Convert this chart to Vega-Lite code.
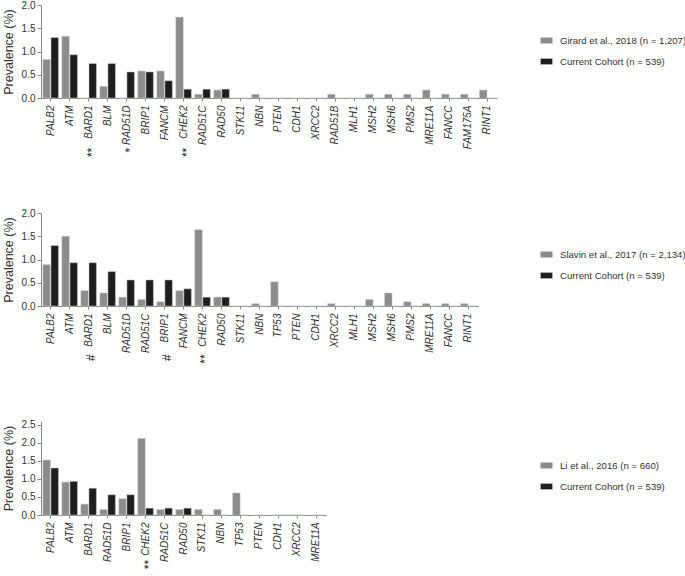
{
  "$schema": "https://vega.github.io/schema/vega-lite/v6.json",
  "padding": {"top": 0, "left": 2, "right": 0, "bottom": 0},
  "background": "white",
  "datasets": {
    "p1": [
      {"gene": "PALB2", "series": "Girard et al., 2018 (n = 1,207)", "value": 0.83},
      {"gene": "PALB2", "series": "Current Cohort (n = 539)", "value": 1.30},
      {"gene": "ATM", "series": "Girard et al., 2018 (n = 1,207)", "value": 1.33},
      {"gene": "ATM", "series": "Current Cohort (n = 539)", "value": 0.93},
      {"gene": "BARD1", "series": "Girard et al., 2018 (n = 1,207)", "value": 0},
      {"gene": "BARD1", "series": "Current Cohort (n = 539)", "value": 0.74},
      {"gene": "BLM", "series": "Girard et al., 2018 (n = 1,207)", "value": 0.25},
      {"gene": "BLM", "series": "Current Cohort (n = 539)", "value": 0.74},
      {"gene": "RAD51D", "series": "Girard et al., 2018 (n = 1,207)", "value": 0},
      {"gene": "RAD51D", "series": "Current Cohort (n = 539)", "value": 0.56},
      {"gene": "BRIP1", "series": "Girard et al., 2018 (n = 1,207)", "value": 0.58},
      {"gene": "BRIP1", "series": "Current Cohort (n = 539)", "value": 0.56},
      {"gene": "FANCM", "series": "Girard et al., 2018 (n = 1,207)", "value": 0.58},
      {"gene": "FANCM", "series": "Current Cohort (n = 539)", "value": 0.37},
      {"gene": "CHEK2", "series": "Girard et al., 2018 (n = 1,207)", "value": 1.74},
      {"gene": "CHEK2", "series": "Current Cohort (n = 539)", "value": 0.19},
      {"gene": "RAD51C", "series": "Girard et al., 2018 (n = 1,207)", "value": 0.08},
      {"gene": "RAD51C", "series": "Current Cohort (n = 539)", "value": 0.19},
      {"gene": "RAD50", "series": "Girard et al., 2018 (n = 1,207)", "value": 0.17},
      {"gene": "RAD50", "series": "Current Cohort (n = 539)", "value": 0.19},
      {"gene": "STK11", "series": "Girard et al., 2018 (n = 1,207)", "value": 0},
      {"gene": "STK11", "series": "Current Cohort (n = 539)", "value": 0},
      {"gene": "NBN", "series": "Girard et al., 2018 (n = 1,207)", "value": 0.08},
      {"gene": "NBN", "series": "Current Cohort (n = 539)", "value": 0},
      {"gene": "PTEN", "series": "Girard et al., 2018 (n = 1,207)", "value": 0},
      {"gene": "PTEN", "series": "Current Cohort (n = 539)", "value": 0},
      {"gene": "CDH1", "series": "Girard et al., 2018 (n = 1,207)", "value": 0},
      {"gene": "CDH1", "series": "Current Cohort (n = 539)", "value": 0},
      {"gene": "XRCC2", "series": "Girard et al., 2018 (n = 1,207)", "value": 0},
      {"gene": "XRCC2", "series": "Current Cohort (n = 539)", "value": 0},
      {"gene": "RAD51B", "series": "Girard et al., 2018 (n = 1,207)", "value": 0.08},
      {"gene": "RAD51B", "series": "Current Cohort (n = 539)", "value": 0},
      {"gene": "MLH1", "series": "Girard et al., 2018 (n = 1,207)", "value": 0},
      {"gene": "MLH1", "series": "Current Cohort (n = 539)", "value": 0},
      {"gene": "MSH2", "series": "Girard et al., 2018 (n = 1,207)", "value": 0.08},
      {"gene": "MSH2", "series": "Current Cohort (n = 539)", "value": 0},
      {"gene": "MSH6", "series": "Girard et al., 2018 (n = 1,207)", "value": 0.08},
      {"gene": "MSH6", "series": "Current Cohort (n = 539)", "value": 0},
      {"gene": "PMS2", "series": "Girard et al., 2018 (n = 1,207)", "value": 0.08},
      {"gene": "PMS2", "series": "Current Cohort (n = 539)", "value": 0},
      {"gene": "MRE11A", "series": "Girard et al., 2018 (n = 1,207)", "value": 0.17},
      {"gene": "MRE11A", "series": "Current Cohort (n = 539)", "value": 0},
      {"gene": "FANCC", "series": "Girard et al., 2018 (n = 1,207)", "value": 0.08},
      {"gene": "FANCC", "series": "Current Cohort (n = 539)", "value": 0},
      {"gene": "FAM175A", "series": "Girard et al., 2018 (n = 1,207)", "value": 0.08},
      {"gene": "FAM175A", "series": "Current Cohort (n = 539)", "value": 0},
      {"gene": "RINT1", "series": "Girard et al., 2018 (n = 1,207)", "value": 0.17},
      {"gene": "RINT1", "series": "Current Cohort (n = 539)", "value": 0}
    ],
    "s1": [
      {"gene": "BARD1", "sig": "**"},
      {"gene": "RAD51D", "sig": "*"},
      {"gene": "CHEK2", "sig": "**"}
    ],
    "p2": [
      {"gene": "PALB2", "series": "Slavin et al., 2017 (n = 2,134)", "value": 0.89},
      {"gene": "PALB2", "series": "Current Cohort (n = 539)", "value": 1.30},
      {"gene": "ATM", "series": "Slavin et al., 2017 (n = 2,134)", "value": 1.50},
      {"gene": "ATM", "series": "Current Cohort (n = 539)", "value": 0.93},
      {"gene": "BARD1", "series": "Slavin et al., 2017 (n = 2,134)", "value": 0.33},
      {"gene": "BARD1", "series": "Current Cohort (n = 539)", "value": 0.93},
      {"gene": "BLM", "series": "Slavin et al., 2017 (n = 2,134)", "value": 0.28},
      {"gene": "BLM", "series": "Current Cohort (n = 539)", "value": 0.74},
      {"gene": "RAD51D", "series": "Slavin et al., 2017 (n = 2,134)", "value": 0.19},
      {"gene": "RAD51D", "series": "Current Cohort (n = 539)", "value": 0.56},
      {"gene": "RAD51C", "series": "Slavin et al., 2017 (n = 2,134)", "value": 0.14},
      {"gene": "RAD51C", "series": "Current Cohort (n = 539)", "value": 0.56},
      {"gene": "BRIP1", "series": "Slavin et al., 2017 (n = 2,134)", "value": 0.09},
      {"gene": "BRIP1", "series": "Current Cohort (n = 539)", "value": 0.56},
      {"gene": "FANCM", "series": "Slavin et al., 2017 (n = 2,134)", "value": 0.33},
      {"gene": "FANCM", "series": "Current Cohort (n = 539)", "value": 0.37},
      {"gene": "CHEK2", "series": "Slavin et al., 2017 (n = 2,134)", "value": 1.64},
      {"gene": "CHEK2", "series": "Current Cohort (n = 539)", "value": 0.19},
      {"gene": "RAD50", "series": "Slavin et al., 2017 (n = 2,134)", "value": 0.19},
      {"gene": "RAD50", "series": "Current Cohort (n = 539)", "value": 0.19},
      {"gene": "STK11", "series": "Slavin et al., 2017 (n = 2,134)", "value": 0},
      {"gene": "STK11", "series": "Current Cohort (n = 539)", "value": 0},
      {"gene": "NBN", "series": "Slavin et al., 2017 (n = 2,134)", "value": 0.05},
      {"gene": "NBN", "series": "Current Cohort (n = 539)", "value": 0},
      {"gene": "TP53", "series": "Slavin et al., 2017 (n = 2,134)", "value": 0.52},
      {"gene": "TP53", "series": "Current Cohort (n = 539)", "value": 0},
      {"gene": "PTEN", "series": "Slavin et al., 2017 (n = 2,134)", "value": 0},
      {"gene": "PTEN", "series": "Current Cohort (n = 539)", "value": 0},
      {"gene": "CDH1", "series": "Slavin et al., 2017 (n = 2,134)", "value": 0},
      {"gene": "CDH1", "series": "Current Cohort (n = 539)", "value": 0},
      {"gene": "XRCC2", "series": "Slavin et al., 2017 (n = 2,134)", "value": 0.05},
      {"gene": "XRCC2", "series": "Current Cohort (n = 539)", "value": 0},
      {"gene": "MLH1", "series": "Slavin et al., 2017 (n = 2,134)", "value": 0},
      {"gene": "MLH1", "series": "Current Cohort (n = 539)", "value": 0},
      {"gene": "MSH2", "series": "Slavin et al., 2017 (n = 2,134)", "value": 0.14},
      {"gene": "MSH2", "series": "Current Cohort (n = 539)", "value": 0},
      {"gene": "MSH6", "series": "Slavin et al., 2017 (n = 2,134)", "value": 0.28},
      {"gene": "MSH6", "series": "Current Cohort (n = 539)", "value": 0},
      {"gene": "PMS2", "series": "Slavin et al., 2017 (n = 2,134)", "value": 0.09},
      {"gene": "PMS2", "series": "Current Cohort (n = 539)", "value": 0},
      {"gene": "MRE11A", "series": "Slavin et al., 2017 (n = 2,134)", "value": 0.05},
      {"gene": "MRE11A", "series": "Current Cohort (n = 539)", "value": 0},
      {"gene": "FANCC", "series": "Slavin et al., 2017 (n = 2,134)", "value": 0.05},
      {"gene": "FANCC", "series": "Current Cohort (n = 539)", "value": 0},
      {"gene": "RINT1", "series": "Slavin et al., 2017 (n = 2,134)", "value": 0.05},
      {"gene": "RINT1", "series": "Current Cohort (n = 539)", "value": 0}
    ],
    "s2": [
      {"gene": "BARD1", "sig": "#"},
      {"gene": "BRIP1", "sig": "#"},
      {"gene": "CHEK2", "sig": "**"}
    ],
    "p3": [
      {"gene": "PALB2", "series": "Li et al., 2016 (n = 660)", "value": 1.52},
      {"gene": "PALB2", "series": "Current Cohort (n = 539)", "value": 1.30},
      {"gene": "ATM", "series": "Li et al., 2016 (n = 660)", "value": 0.91},
      {"gene": "ATM", "series": "Current Cohort (n = 539)", "value": 0.93},
      {"gene": "BARD1", "series": "Li et al., 2016 (n = 660)", "value": 0.30},
      {"gene": "BARD1", "series": "Current Cohort (n = 539)", "value": 0.74},
      {"gene": "RAD51D", "series": "Li et al., 2016 (n = 660)", "value": 0.15},
      {"gene": "RAD51D", "series": "Current Cohort (n = 539)", "value": 0.56},
      {"gene": "BRIP1", "series": "Li et al., 2016 (n = 660)", "value": 0.45},
      {"gene": "BRIP1", "series": "Current Cohort (n = 539)", "value": 0.56},
      {"gene": "CHEK2", "series": "Li et al., 2016 (n = 660)", "value": 2.12},
      {"gene": "CHEK2", "series": "Current Cohort (n = 539)", "value": 0.19},
      {"gene": "RAD51C", "series": "Li et al., 2016 (n = 660)", "value": 0.15},
      {"gene": "RAD51C", "series": "Current Cohort (n = 539)", "value": 0.19},
      {"gene": "RAD50", "series": "Li et al., 2016 (n = 660)", "value": 0.15},
      {"gene": "RAD50", "series": "Current Cohort (n = 539)", "value": 0.19},
      {"gene": "STK11", "series": "Li et al., 2016 (n = 660)", "value": 0.15},
      {"gene": "STK11", "series": "Current Cohort (n = 539)", "value": 0},
      {"gene": "NBN", "series": "Li et al., 2016 (n = 660)", "value": 0.15},
      {"gene": "NBN", "series": "Current Cohort (n = 539)", "value": 0},
      {"gene": "TP53", "series": "Li et al., 2016 (n = 660)", "value": 0.61},
      {"gene": "TP53", "series": "Current Cohort (n = 539)", "value": 0},
      {"gene": "PTEN", "series": "Li et al., 2016 (n = 660)", "value": 0},
      {"gene": "PTEN", "series": "Current Cohort (n = 539)", "value": 0},
      {"gene": "CDH1", "series": "Li et al., 2016 (n = 660)", "value": 0},
      {"gene": "CDH1", "series": "Current Cohort (n = 539)", "value": 0},
      {"gene": "XRCC2", "series": "Li et al., 2016 (n = 660)", "value": 0},
      {"gene": "XRCC2", "series": "Current Cohort (n = 539)", "value": 0},
      {"gene": "MRE11A", "series": "Li et al., 2016 (n = 660)", "value": 0},
      {"gene": "MRE11A", "series": "Current Cohort (n = 539)", "value": 0}
    ],
    "s3": [
      {"gene": "CHEK2", "sig": "**"}
    ]
  },
  "vconcat": [
    {
      "width": 456,
      "height": 93,
      "layer": [
        {
          "data": {"name": "p1"},
          "mark": {"type": "bar"},
          "encoding": {
            "x": {"field": "gene", "type": "nominal", "title": null,
              "scale": {"domain": ["PALB2","ATM","BARD1","BLM","RAD51D","BRIP1","FANCM","CHEK2","RAD51C","RAD50","STK11","NBN","PTEN","CDH1","XRCC2","RAD51B","MLH1","MSH2","MSH6","PMS2","MRE11A","FANCC","FAM175A","RINT1"], "paddingInner": 0.18, "paddingOuter": 0.1}},
            "xOffset": {"field": "series", "type": "nominal", "scale": {"domain": ["Girard et al., 2018 (n = 1,207)", "Current Cohort (n = 539)"], "paddingInner": 0.08}},
            "y": {"field": "value", "type": "quantitative", "title": "Prevalence (%)",
              "scale": {"domain": [0, 2]}, "axis": {"values": [0, 0.5, 1, 1.5, 2], "format": ".1f"}},
            "color": {"field": "series", "type": "nominal",
              "scale": {"domain": ["Girard et al., 2018 (n = 1,207)", "Current Cohort (n = 539)"], "range": ["#8c8c8c", "#1e1e1e"]},
              "legend": {"orient": "none", "legendX": 499, "legendY": 29, "title": null}}
          }
        },
        {
          "data": {"name": "s1"},
          "mark": {"type": "text", "angle": 270, "align": "right", "baseline": "middle", "fontSize": 12, "fill": "#222", "dy": 3},
          "encoding": {
            "x": {"field": "gene", "type": "nominal"},
            "y": {"datum": -1.07, "type": "quantitative", "title": "Prevalence (%)", "axis": {"values": [0, 0.5, 1, 1.5, 2], "format": ".1f"}},
            "text": {"field": "sig"}
          }
        }
      ]
    },
    {
      "width": 437,
      "height": 93,
      "layer": [
        {
          "data": {"name": "p2"},
          "mark": {"type": "bar"},
          "encoding": {
            "x": {"field": "gene", "type": "nominal", "title": null,
              "scale": {"domain": ["PALB2","ATM","BARD1","BLM","RAD51D","RAD51C","BRIP1","FANCM","CHEK2","RAD50","STK11","NBN","TP53","PTEN","CDH1","XRCC2","MLH1","MSH2","MSH6","PMS2","MRE11A","FANCC","RINT1"], "paddingInner": 0.18, "paddingOuter": 0.1}},
            "xOffset": {"field": "series", "type": "nominal", "scale": {"domain": ["Slavin et al., 2017 (n = 2,134)", "Current Cohort (n = 539)"], "paddingInner": 0.08}},
            "y": {"field": "value", "type": "quantitative", "title": "Prevalence (%)",
              "scale": {"domain": [0, 2]}, "axis": {"values": [0, 0.5, 1, 1.5, 2], "format": ".1f"}},
            "color": {"field": "series", "type": "nominal",
              "scale": {"domain": ["Slavin et al., 2017 (n = 2,134)", "Current Cohort (n = 539)"], "range": ["#8c8c8c", "#1e1e1e"]},
              "legend": {"orient": "none", "legendX": 499, "legendY": 35, "title": null}}
          }
        },
        {
          "data": {"name": "s2"},
          "mark": {"type": "text", "angle": 270, "align": "right", "baseline": "middle", "fontSize": 12, "fill": "#222", "dy": 2},
          "encoding": {
            "x": {"field": "gene", "type": "nominal"},
            "y": {"datum": -1.04, "type": "quantitative", "title": "Prevalence (%)", "axis": {"values": [0, 0.5, 1, 1.5, 2], "format": ".1f"}},
            "text": {"field": "sig"}
          }
        }
      ]
    },
    {
      "width": 285,
      "height": 94,
      "layer": [
        {
          "data": {"name": "p3"},
          "mark": {"type": "bar"},
          "encoding": {
            "x": {"field": "gene", "type": "nominal", "title": null,
              "scale": {"domain": ["PALB2","ATM","BARD1","RAD51D","BRIP1","CHEK2","RAD51C","RAD50","STK11","NBN","TP53","PTEN","CDH1","XRCC2","MRE11A"], "paddingInner": 0.18, "paddingOuter": 0.1}},
            "xOffset": {"field": "series", "type": "nominal", "scale": {"domain": ["Li et al., 2016 (n = 660)", "Current Cohort (n = 539)"], "paddingInner": 0.08}},
            "y": {"field": "value", "type": "quantitative", "title": "Prevalence (%)",
              "scale": {"domain": [0, 2.5]}, "axis": {"values": [0, 0.5, 1, 1.5, 2, 2.5], "format": ".1f"}},
            "color": {"field": "series", "type": "nominal",
              "scale": {"domain": ["Li et al., 2016 (n = 660)", "Current Cohort (n = 539)"], "range": ["#8c8c8c", "#1e1e1e"]},
              "legend": {"orient": "none", "legendX": 499, "legendY": 38, "title": null}}
          }
        },
        {
          "data": {"name": "s3"},
          "mark": {"type": "text", "angle": 270, "align": "right", "baseline": "middle", "fontSize": 12, "fill": "#222", "dy": 3},
          "encoding": {
            "x": {"field": "gene", "type": "nominal"},
            "y": {"datum": -1.24, "type": "quantitative", "title": "Prevalence (%)", "axis": {"values": [0, 0.5, 1, 1.5, 2, 2.5], "format": ".1f"}},
            "text": {"field": "sig"}
          }
        }
      ]
    }
  ],
  "spacing": 115,
  "bounds": "flush",
  "resolve": {"scale": {"color": "independent", "x": "independent", "y": "independent", "xOffset": "independent"}, "legend": {"color": "independent"}},
  "config": {
    "font": "Liberation Sans",
    "view": {"stroke": null},
    "axis": {"grid": false, "domainColor": "#8a8a8a", "tickColor": "#8a8a8a", "labelColor": "#333", "titleColor": "#333", "labelFont": "Liberation Sans", "titleFont": "Liberation Sans"},
    "axisX": {"labelAngle": 270, "labelFontStyle": "italic", "labelFontSize": 10, "tickSize": 3, "labelPadding": 4, "domainWidth": 1},
    "axisY": {"labelFontSize": 10, "tickSize": 4, "labelPadding": 2, "titleFontSize": 12.5, "titleFontWeight": "normal", "titlePadding": 6, "labelOverlap": false, "labelFlush": false},
    "legend": {"symbolType": "M-1,-0.5H1V0.5H-1Z", "symbolSize": 144, "symbolStrokeWidth": 0, "labelFontSize": 9.6, "labelColor": "#333", "rowPadding": 9, "labelOffset": 7, "labelFont": "Liberation Sans"},
    "bar": {"stroke": "#c8c8c8", "strokeWidth": 0.5}
  }
}
